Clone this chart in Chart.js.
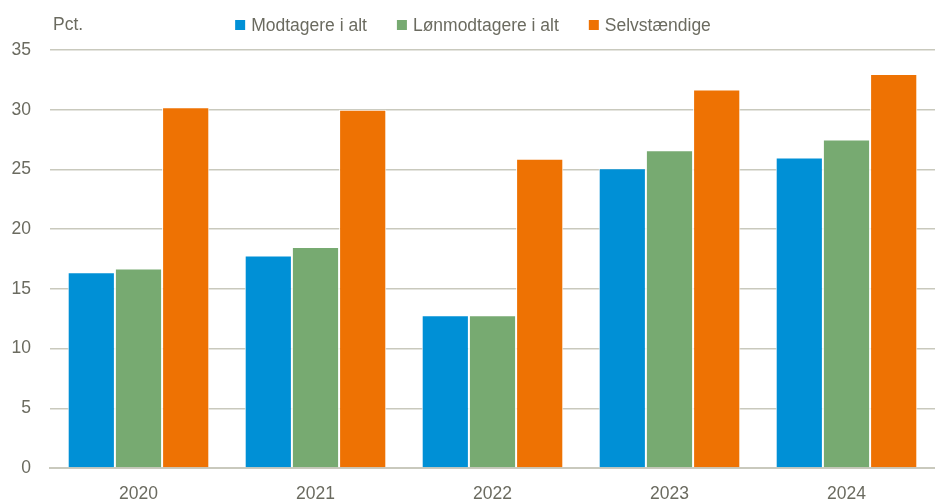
<!DOCTYPE html>
<html>
<head>
<meta charset="utf-8">
<script src="https://cdn.jsdelivr.net/npm/chart.js@4/dist/chart.umd.min.js"></script>
<style>
  html, body { margin: 0; padding: 0; background: #fff; }
  #wrap { width: 935px; height: 502px; position: relative; }
</style>
</head>
<body>
<div id="wrap"><canvas id="chart"></canvas></div>
<script>
const years = ['2020', '2021', '2022', '2023', '2024'];
const modtagere = [16.4, 17.8, 12.8, 25.1, 26.0];
const loenmodtagere = [16.7, 18.5, 12.8, 26.6, 27.5];
const selvstaendige = [30.2, 30.0, 25.9, 31.7, 33.0];
const yTicks = [0, 5, 10, 15, 20, 25, 30, 35];

const textColor = '#6b6b60';
const gridColor = '#c9c9bd';
const fontFamily = '"Liberation Sans", Arial, sans-serif';
const fontSize = 17.5;

// "Pct." label and a legend drawn by hand so spacing matches
const topLabels = {
  id: 'topLabels',
  afterDraw(chart) {
    const ctx = chart.ctx;
    ctx.save();
    ctx.font = fontSize + 'px ' + fontFamily;
    ctx.textBaseline = 'middle';
    ctx.fillStyle = textColor;
    ctx.fillText('Pct.', 53, 25);

    const items = chart.data.datasets;
    const box = 10, gap = 6, spacing = 30;
    const widths = items.map(d => ctx.measureText(d.label).width);
    const total = widths.reduce((a, w) => a + box + gap + w, 0) + spacing * (items.length - 1);
    let x = 473 - total / 2;
    items.forEach((d, i) => {
      ctx.fillStyle = d.backgroundColor;
      ctx.fillRect(x, 25 - box / 2, box, box);
      ctx.fillStyle = textColor;
      ctx.fillText(d.label, x + box + gap, 26);
      x += box + gap + widths[i] + spacing;
    });
    ctx.restore();
  }
};

new Chart(document.getElementById('chart'), {
  type: 'bar',
  data: {
    labels: years,
    datasets: [
      { label: 'Modtagere i alt', data: modtagere, backgroundColor: '#0090d6' },
      { label: 'Lønmodtagere i alt', data: loenmodtagere, backgroundColor: '#77aa71' },
      { label: 'Selvstændige', data: selvstaendige, backgroundColor: '#ee7203' }
    ]
  },
  options: {
    responsive: true,
    maintainAspectRatio: false,
    animation: false,
    layout: { padding: { top: 50, right: 0, bottom: 0, left: 0 } },
    datasets: {
      bar: {
        categoryPercentage: 0.8,
        barPercentage: 1,
        borderColor: '#ffffff',
        borderWidth: 1
      }
    },
    scales: {
      x: {
        afterFit(scale) { scale.height = 34; },
        grid: { display: false, drawTicks: false },
        border: { display: true, color: gridColor, width: 2 },
        ticks: {
          color: textColor,
          font: { family: fontFamily, size: fontSize },
          padding: 16
        }
      },
      y: {
        min: 0,
        max: 35,
        afterFit(scale) { scale.width = 50; },
        afterBuildTicks(scale) { scale.ticks = yTicks.map(v => ({ value: v })); },
        grid: { color: gridColor, lineWidth: 1.5, drawTicks: false },
        border: { display: false },
        ticks: {
          color: textColor,
          font: { family: fontFamily, size: fontSize },
          padding: 19
        }
      }
    },
    plugins: {
      legend: { display: false },
      tooltip: { enabled: false }
    }
  },
  plugins: [topLabels]
});
</script>
</body>
</html>
